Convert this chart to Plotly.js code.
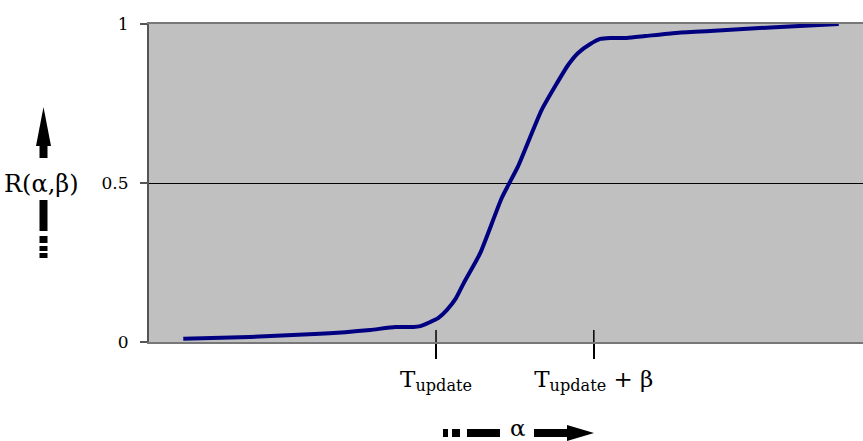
<!DOCTYPE html>
<html><head><meta charset="utf-8">
<script src="https://cdn.plot.ly/plotly-3.0.1.min.js"></script>
<style>html,body{margin:0;padding:0;background:#fff}#chart{width:863px;height:441px}</style>
</head><body><div id="chart"></div>
<script>
// alpha positions (arbitrary units, 0..100 across the plot)
const alphaVals = [4.8, 14.1, 23.2, 27.5, 31.0, 34.5, 37.0, 38.0, 39.4, 40.5, 41.7, 43.0, 44.1, 46.4, 49.4, 51.7, 55.0, 58.7, 60.1, 61.8, 63.2, 64.6, 66.9, 69.5, 73.8, 78.6, 87.7, 96.6];
const rVals = [0.010, 0.016, 0.025, 0.031, 0.038, 0.047, 0.047, 0.050, 0.063, 0.075, 0.100, 0.138, 0.186, 0.280, 0.453, 0.553, 0.730, 0.871, 0.909, 0.937, 0.953, 0.956, 0.956, 0.962, 0.972, 0.978, 0.990, 1.000];
const xTickVals = [40.2, 62.3];
const xTickText = ['T<sub>update</sub>', 'T<sub>update</sub> + β'];
const yTickVals = [0, 0.5, 1];
const yTickText = ['0', '0.5', '1'];

const L = 149, T = 24, W = 714, H = 318;
const px = x => (x - L) / W;
const py = y => (T + H - y) / H;
const FONT = 'DejaVu Serif, Liberation Serif, serif';

const shapes = [];
// inner part of x ticks
xTickVals.forEach(v => shapes.push({type:'line', xref:'x', yref:'paper', x0:v, x1:v, y0:0, y1:py(330), line:{color:'#000', width:1.5}}));
function rect(x0,y0,x1,y1){shapes.push({type:'rect', xref:'paper', yref:'paper', x0:px(x0), x1:px(x1), y0:py(y0), y1:py(y1), fillcolor:'#000', line:{width:0}});}
function tri(pts){shapes.push({type:'path', xref:'paper', yref:'paper', path:'M'+pts.map(p=>px(p[0])+','+py(p[1])).join(' L')+' Z', fillcolor:'#000', line:{width:0}});}
// vertical arrow (left)
tri([[36,146],[51,146],[43.5,107]]);
rect(39.5,145,47.5,158);
rect(39.5,200,47.5,231);
rect(39.5,236,47.5,243);
rect(39.5,246,47.5,251);
rect(39.5,253,47.5,258);
// horizontal arrow (bottom)
rect(443,429,448,437);
rect(452,429,460,437);
rect(467,429,500,437);
rect(534,429,568,437);
tri([[567,425],[567,441],[594,433]]);

const data = [{
  x: alphaVals, y: rVals, type:'scatter', mode:'lines',
  line:{color:'#000080', width:4, shape:'spline', smoothing:0.5},
  hoverinfo:'skip'
}];

const layout = {
  width:863, height:441,
  margin:{l:L, r:0, t:T, b:441-T-H, pad:0},
  paper_bgcolor:'#fff', plot_bgcolor:'#c0c0c0',
  showlegend:false,
  font:{family:FONT, color:'#000'},
  xaxis:{range:[0,100], showgrid:false, zeroline:false, showline:true, mirror:true, linecolor:'#777', linewidth:2,
    tickmode:'array', tickvals:xTickVals, ticktext:xTickText, ticks:'outside', ticklen:15, tickwidth:1.5, tickcolor:'#000',
    ticklabelstandoff:0, tickfont:{family:FONT, size:23, color:'#000'}, fixedrange:true},
  yaxis:{range:[0,1], showgrid:true, gridcolor:'#000', gridwidth:1, zeroline:false, showline:true, linecolor:'#555', linewidth:2,
    tickmode:'array', tickvals:yTickVals, ticktext:yTickText, ticks:'outside', ticklen:7, tickwidth:1.5, tickcolor:'#555',
    ticklabelstandoff:8, tickfont:{family:FONT, size:17, color:'#000'}, fixedrange:true},
  shapes: shapes,
  annotations:[
    {xref:'paper', yref:'paper', x:px(41), y:py(184), text:'R(α,β)', showarrow:false, font:{family:FONT, size:24, color:'#000'}, xanchor:'center', yanchor:'middle'},
    {xref:'paper', yref:'paper', x:px(518), y:py(428), text:'α', showarrow:false, font:{family:FONT, size:23, color:'#000'}, xanchor:'center', yanchor:'middle'}
  ]
};
Plotly.newPlot('chart', data, layout, {displayModeBar:false, staticPlot:true});
</script></body></html>
